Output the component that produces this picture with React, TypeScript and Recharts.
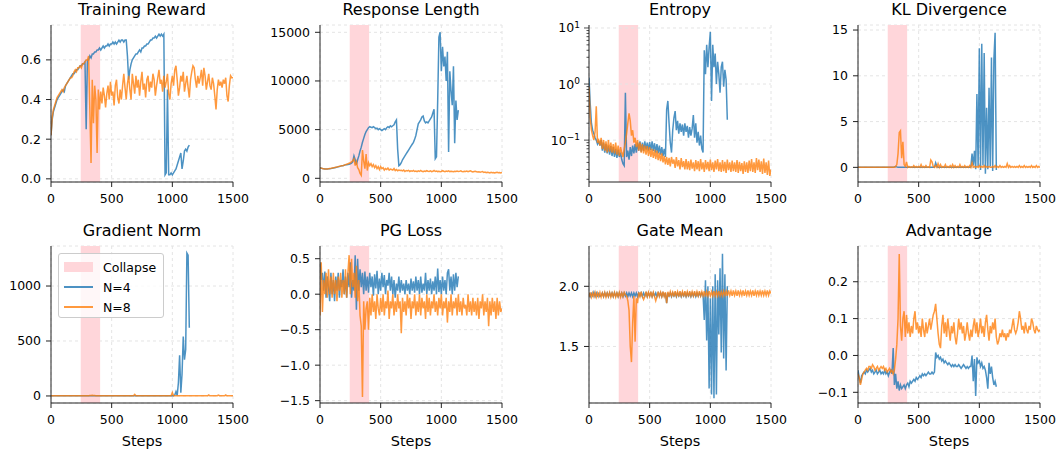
import React from "react";
import { LineChart, Line, XAxis, YAxis, CartesianGrid, ReferenceArea, ReferenceLine } from "recharts";

// training steps, one point every 10 steps (N=4 run stops at 1140)
const STEPS = Array.from({ length: 151 }, (_, i) => i * 10);
const X_TICKS = [0, 500, 1000, 1500];
const COLLAPSE = [245, 405];

const REWARD_N4 = [
  0.22, 0.30, 0.34, 0.36, 0.38, 0.40, 0.41, 0.42, 0.43, 0.44,
  0.45, 0.44, 0.47, 0.48, 0.49, 0.50, 0.51, 0.52, 0.53, 0.53,
  0.54, 0.55, 0.55, 0.56, 0.57, 0.57, 0.58, 0.58, 0.59, 0.25,
  0.60, 0.60, 0.62, 0.61, 0.63, 0.63, 0.64, 0.64, 0.65, 0.65,
  0.66, 0.65, 0.66, 0.67, 0.66, 0.67, 0.67, 0.68, 0.67, 0.68,
  0.68, 0.69, 0.68, 0.69, 0.68, 0.69, 0.70, 0.69, 0.70, 0.70,
  0.69, 0.70, 0.70, 0.62, 0.50, 0.55, 0.58, 0.60, 0.61, 0.62,
  0.63, 0.63, 0.64, 0.65, 0.64, 0.66, 0.66, 0.67, 0.67, 0.68,
  0.68, 0.69, 0.70, 0.70, 0.71, 0.71, 0.72, 0.71, 0.72, 0.73,
  0.72, 0.73, 0.72, 0.73, 0.02, 0.03, 0.45, 0.02, 0.02, 0.03,
  0.02, 0.03, 0.04, 0.05, 0.07, 0.09, 0.11, 0.13, 0.05, 0.09,
  0.14, 0.15, 0.14, 0.16, 0.17,
];
const REWARD_N8 = [
  0.22, 0.31, 0.35, 0.37, 0.39, 0.41, 0.42, 0.43, 0.44, 0.45,
  0.44, 0.46, 0.47, 0.48, 0.49, 0.50, 0.51, 0.51, 0.52, 0.54,
  0.55, 0.54, 0.56, 0.56, 0.57, 0.56, 0.58, 0.58, 0.59, 0.60,
  0.60, 0.62, 0.35, 0.08, 0.50, 0.28, 0.47, 0.40, 0.13, 0.45,
  0.35, 0.44, 0.38, 0.46, 0.42, 0.36, 0.43, 0.47, 0.40, 0.49,
  0.42, 0.44, 0.37, 0.47, 0.50, 0.41, 0.38, 0.45, 0.40, 0.47,
  0.53, 0.46, 0.40, 0.48, 0.52, 0.45, 0.40, 0.53, 0.48, 0.43,
  0.52, 0.46, 0.50, 0.42, 0.49, 0.54, 0.45, 0.48, 0.41, 0.50,
  0.52, 0.44, 0.49, 0.46, 0.53, 0.50, 0.42, 0.47, 0.51, 0.55,
  0.48, 0.50, 0.44, 0.52, 0.46, 0.49, 0.53, 0.43, 0.40, 0.48,
  0.52, 0.47, 0.55, 0.57, 0.50, 0.42, 0.46, 0.52, 0.49, 0.54,
  0.44, 0.48, 0.52, 0.46, 0.41, 0.50, 0.54, 0.57, 0.56, 0.50,
  0.46, 0.52, 0.48, 0.51, 0.55, 0.47, 0.56, 0.52, 0.45, 0.49,
  0.53, 0.47, 0.45, 0.51, 0.48, 0.42, 0.35, 0.45, 0.50, 0.47,
  0.49, 0.46, 0.50, 0.48, 0.51, 0.42, 0.39, 0.47, 0.52, 0.51,
  0.51,
];

const LENGTH_N4 = [
  1100, 1050, 1000, 980, 960, 950, 960, 970, 990, 1000,
  1020, 1050, 1080, 1100, 1150, 1180, 1200, 1250, 1280, 1300,
  1350, 1380, 1400, 1420, 1450, 1500, 1550, 1700, 2300, 1900,
  1400, 1900, 2300, 2800, 3200, 3700, 4100, 4500, 4800, 5000,
  5200, 5300, 5250, 5200, 5300, 5200, 5100, 5150, 5000, 5100,
  5000, 4900, 5000, 5100, 5000, 5200, 5300, 5200, 5400, 5300,
  5400, 5500, 5800, 6000, 3000, 1300, 1400, 1600, 1900, 2100,
  2300, 2500, 2700, 2900, 3100, 3300, 3500, 3700, 4000, 4400,
  5000, 5600, 5800, 6000, 6300, 6400, 5900, 5700, 5800, 5700,
  5900, 6100, 6300, 6700, 7100, 2000, 2200, 8000, 14500, 15000,
  11000, 13500, 11500, 12500, 10000, 13000, 2700, 11000, 9000, 7500,
  11500, 3600, 8000, 6000, 7000,
];
const LENGTH_N8 = [
  1100, 1050, 1000, 980, 960, 950, 960, 980, 1000, 1020,
  1050, 1080, 1100, 1130, 1150, 1200, 1230, 1260, 1300, 1320,
  1350, 1400, 1450, 1500, 1550, 1600, 1700, 1800, 2000, 1300,
  1700, 1100, 900, 500, 300, 2900, 1800, 1000, 2500, 800,
  1600, 1300, 1500, 1200, 1400, 1100, 1300, 1000, 1200, 900,
  1200, 1000, 1100, 850, 1000, 900, 1050, 850, 950, 900,
  850, 1000, 800, 900, 780, 850, 800, 820, 760, 850,
  700, 800, 750, 820, 700, 760, 720, 800, 700, 750,
  680, 760, 700, 800, 720, 680, 750, 700, 780, 720,
  700, 760, 680, 720, 800, 700, 750, 690, 720, 680,
  700, 780, 720, 680, 740, 700, 760, 690, 720, 700,
  680, 720, 700, 750, 690, 710, 760, 700, 680, 720,
  700, 740, 680, 720, 760, 700, 650, 690, 720, 680,
  640, 680, 620, 660, 700, 600, 650, 580, 620, 600,
  560, 620, 580, 600, 550, 600, 620, 580, 600, 560,
  600,
];

const ENTROPY_N4 = [
  1.3, 0.45, 0.2, 0.15, 0.13, 0.11, 0.1, 0.085, 0.095, 0.08,
  0.1, 0.065, 0.09, 0.06, 0.085, 0.058, 0.08, 0.055, 0.078, 0.052,
  0.075, 0.05, 0.07, 0.048, 0.068, 0.05, 0.06, 0.045, 0.038, 0.035,
  0.7, 0.05, 0.065, 0.045, 0.075, 0.052, 0.08, 0.058, 0.085, 0.06,
  0.09, 0.065, 0.095, 0.062, 0.09, 0.064, 0.095, 0.068, 0.09, 0.065,
  0.092, 0.066, 0.095, 0.064, 0.088, 0.06, 0.085, 0.058, 0.08, 0.055,
  0.075, 0.052, 0.07, 0.05, 0.35, 0.5, 0.2, 0.09, 0.06, 0.15,
  0.25, 0.33, 0.15, 0.22, 0.13, 0.2, 0.14, 0.19, 0.12, 0.2,
  0.14, 0.18, 0.11, 0.17, 0.12, 0.16, 0.28, 0.11, 0.2, 0.09,
  0.14, 0.08, 0.12, 0.07, 0.06, 4.0, 1.5, 5.0, 2.0, 4.5,
  8.5, 0.5, 5.0, 2.0, 3.5, 1.0, 2.5, 1.5, 0.7, 2.0,
  2.5, 0.9, 1.8, 1.2, 0.23,
];
const ENTROPY_N8 = [
  0.9, 0.25, 0.15, 0.12, 0.1, 0.14, 0.4, 0.09, 0.1, 0.08,
  0.11, 0.07, 0.1, 0.065, 0.095, 0.06, 0.1, 0.062, 0.09, 0.06,
  0.085, 0.058, 0.09, 0.055, 0.08, 0.052, 0.075, 0.06, 0.05, 0.07,
  0.09, 0.13, 0.2, 0.3, 0.22, 0.12, 0.15, 0.09, 0.11, 0.075,
  0.1, 0.065, 0.09, 0.06, 0.085, 0.058, 0.08, 0.055, 0.078, 0.052,
  0.075, 0.05, 0.07, 0.048, 0.068, 0.046, 0.065, 0.044, 0.06, 0.042,
  0.058, 0.04, 0.052, 0.037, 0.05, 0.036, 0.048, 0.034, 0.05, 0.038,
  0.045, 0.032, 0.05, 0.034, 0.044, 0.03, 0.048, 0.033, 0.042, 0.03,
  0.046, 0.03, 0.042, 0.029, 0.045, 0.031, 0.04, 0.028, 0.044, 0.03,
  0.042, 0.028, 0.046, 0.03, 0.04, 0.027, 0.044, 0.03, 0.041, 0.028,
  0.045, 0.029, 0.04, 0.027, 0.043, 0.03, 0.046, 0.028, 0.04, 0.027,
  0.044, 0.028, 0.041, 0.026, 0.045, 0.029, 0.04, 0.027, 0.043, 0.028,
  0.04, 0.027, 0.044, 0.026, 0.041, 0.028, 0.039, 0.025, 0.042, 0.027,
  0.04, 0.026, 0.043, 0.028, 0.046, 0.027, 0.04, 0.026, 0.048, 0.029,
  0.045, 0.027, 0.042, 0.025, 0.047, 0.026, 0.04, 0.024, 0.043, 0.023,
  0.03,
];

const KL_N4 = [
  0, 0, 0, 0, 0, 0, 0, 0, 0, 0,
  0, 0, 0, 0, 0, 0, 0, 0, 0, 0,
  0, 0, 0, 0, 0, 0, 0, 0, 0, 0,
  0.05, 0.1, 0.05, 0, 0, 0, 0, 0, 0, 0,
  0, 0, 0, 0, 0, 0, 0, 0, 0, 0,
  0, 0, 0, 0, 0, 0, 0, 0, 0, 0,
  0, 0, 0, 0, 0.5, 0.1, 0, 0, 0, 0,
  0, 0, 0, 0, 0, 0, 0, 0, 0, 0,
  0, 0, 0, 0, 0, 0, 0, 0, 0, 0,
  0, 0, 0, 0.05, 1.5, 0.2, 1.8, -0.2, 8, 0.1,
  13, -0.3, 13.5, 0.2, 12.5, -0.7, 6.5, -0.2, 8.7, 0.1,
  12, -0.4, 11.8, 14.7, -0.3,
];
const KL_N8 = [
  0, 0, 0, 0, 0, 0, 0, 0, 0, 0,
  0, 0, 0, 0, 0, 0, 0, 0, 0, 0,
  0, 0, 0, 0, 0, 0, 0, 0, 0, 0,
  0, 0.1, 0.3, 1.5, 3.8, 4.0, 1.0, 2.8, 0.3, 0.1,
  0.6, 0, 0.1, 0, 0.05, 0, 0.2, 0, 0.1, 0,
  0.1, 0, 0.3, 0, 0.1, 0, 0.2, 0, 0.05, 0,
  0.8, 0.6, 0.1, 0, 0.2, 0, 0.4, 0, 0.3, 0,
  0.1, 0, 0.3, 0, 0.1, 0, 0.2, 0, 0.3, 0,
  0.2, 0, 0.1, 0, 0.3, 0, 0.1, 0, 0.2, 0,
  0.1, 0, 0.2, 0, 0.5, 0, 0.1, 0, 0.1, 0,
  0.2, 0, 0.1, 0, 0.2, 0, 0.1, 0, 0.1, 0,
  0, 0.1, 0, 0.2, 0, 0.1, 0, 0.2, 0, 0.1,
  0, 0.1, 0, 0.4, 0, 0.2, 0, 0.1, 0, 0.1,
  0, 0.1, 0, 0.2, 0, 0.1, 0, 0.2, 0, 0.1,
  0, 0.1, 0, 0.2, 0, 0.1, 0, 0.2, 0, 0.1,
  0,
];

const GRAD_N4 = [
  2, 1, 1, 1, 1, 1, 1, 1, 1, 1,
  1, 1, 1, 1, 1, 1, 1, 1, 1, 1,
  1, 1, 1, 1, 1, 1, 1, 1, 1, 1,
  2, 1, 1, 1, 1, 1, 1, 1, 1, 1,
  1, 1, 1, 1, 1, 1, 1, 1, 1, 1,
  1, 1, 1, 1, 1, 1, 1, 1, 1, 1,
  1, 1, 1, 1, 2, 1, 1, 1, 1, 1,
  1, 1, 1, 1, 1, 1, 1, 1, 1, 1,
  1, 1, 1, 1, 1, 1, 1, 1, 1, 1,
  1, 1, 1, 1, 2, 3, 2, 3, 2, 3,
  1, 2, 8, 40, 5, 120, 370, 30, 200, 540,
  330, 420, 1300, 1280, 620,
];
const GRAD_N8 = [
  2, 2, 2, 2, 2, 2, 2, 2, 2, 2,
  2, 2, 2, 2, 2, 2, 2, 2, 2, 2,
  2, 2, 2, 2, 2, 2, 2, 2, 2, 2,
  3, 3, 4, 5, 6, 5, 4, 3, 3, 2,
  2, 2, 2, 2, 2, 2, 2, 2, 2, 2,
  2, 2, 2, 2, 2, 2, 2, 2, 2, 2,
  2, 2, 2, 2, 2, 2, 2, 2, 2, 15,
  2, 2, 2, 2, 2, 2, 2, 2, 2, 2,
  2, 2, 2, 2, 2, 2, 2, 2, 2, 2,
  2, 2, 2, 2, 2, 2, 2, 2, 2, 2,
  30, 2, 2, 2, 2, 2, 2, 2, 2, 2,
  2, 2, 2, 2, 2, 2, 2, 2, 2, 2,
  2, 2, 2, 2, 2, 2, 2, 2, 2, 2,
  10, 2, 2, 2, 2, 2, 2, 2, 8, 2,
  2, 2, 2, 2, 10, 2, 2, 2, 2, 2,
  2,
];

const PG_N4 = [
  0.45, 0.2, 0.3, 0.05, 0.32, -0.05, 0.25, 0.1, -0.1, 0.3,
  0.0, 0.2, -0.1, 0.25, 0.05, 0.3, -0.05, 0.2, 0.1, 0.35,
  0.0, 0.25, -0.05, 0.3, 0.1, 0.45, -0.05, 0.2, 0.05, 0.55,
  -0.22, 0.5, 0.05, 0.35, 0.1, 0.3, 0.0, 0.32, 0.05, 0.25,
  0.02, 0.3, 0.1, 0.25, -0.02, 0.28, 0.08, 0.33, 0.0, 0.22,
  0.05, 0.3, 0.1, 0.27, 0.0, 0.2, 0.12, 0.3, 0.05, 0.25,
  0.0, 0.2, -0.05, 0.15, 0.05, 0.25, 0.02, 0.2, 0.05, 0.15,
  0.0, 0.2, 0.05, 0.15, 0.0, 0.22, 0.05, 0.18, 0.02, 0.25,
  0.05, 0.2, 0.0, 0.25, 0.02, 0.15, 0.05, 0.3, 0.0, 0.2,
  0.05, 0.22, 0.0, 0.18, 0.05, 0.25, 0.0, 0.36, 0.03, 0.2,
  0.0, 0.25, 0.05, 0.2, 0.0, 0.3, 0.35, 0.05, 0.25, 0.0,
  0.28, 0.05, 0.3, 0.1, 0.25,
];
const PG_N8 = [
  -0.3, 0.45, -0.25, 0.2, 0.0, 0.3, -0.05, 0.35, 0.0, 0.25,
  -0.05, 0.3, 0.0, 0.2, -0.1, 0.25, 0.05, 0.3, -0.05, 0.2,
  0.0, 0.35, -0.05, 0.3, 0.55, 0.0, 0.5, 0.1, 0.3, -0.05,
  0.4, -0.1, 0.2, -0.3, -0.45, -1.45, -0.1, -0.5, -0.2, -0.1,
  -0.5, -0.05, -0.3, 0.0, -0.25, -0.1, -0.35, 0.0, -0.2, -0.3,
  -0.05, -0.25, 0.0, -0.3, -0.1, -0.2, 0.05, -0.35, -0.1, -0.2,
  0.0, -0.3, -0.1, -0.25, 0.0, -0.2, -0.1, -0.55, -0.05, -0.25,
  -0.1, -0.3, 0.0, -0.2, -0.05, -0.35, -0.1, -0.2, 0.0, -0.3,
  -0.1, -0.25, 0.0, -0.3, -0.05, -0.2, -0.1, -0.35, 0.0, -0.25,
  -0.05, -0.3, -0.1, -0.2, 0.0, -0.25, -0.1, -0.3, -0.05, -0.2,
  0.0, -0.3, -0.1, -0.2, -0.05, -0.4, -0.1, -0.25, 0.0, -0.3,
  -0.1, -0.2, -0.05, -0.3, 0.0, -0.25, -0.1, -0.3, -0.05, -0.2,
  -0.15, -0.3, 0.0, -0.25, -0.1, -0.3, -0.05, -0.25, -0.1, -0.3,
  -0.05, -0.35, -0.1, -0.2, 0.0, -0.3, -0.1, -0.25, -0.05, -0.45,
  -0.1, -0.3, -0.05, -0.25, -0.1, -0.35, -0.05, -0.3, -0.1, -0.25,
  -0.2,
];

const GATE_N4 = [
  1.945, 1.915, 1.94, 1.92, 1.95, 1.915, 1.945, 1.92, 1.94, 1.915,
  1.925, 1.945, 1.915, 1.945, 1.92, 1.945, 1.915, 1.945, 1.92, 1.945,
  1.915, 1.945, 1.92, 1.945, 1.915, 1.945, 1.92, 1.945, 1.915, 1.945,
  1.92, 1.945, 1.915, 1.945, 1.92, 1.945, 1.915, 1.945, 1.92, 1.945,
  1.915, 1.945, 1.92, 1.945, 1.915, 1.945, 1.92, 1.945, 1.915, 1.945,
  1.92, 1.945, 1.915, 1.945, 1.92, 1.945, 1.915, 1.945, 1.92, 1.945,
  1.915, 1.945, 1.92, 1.945, 1.86, 1.945, 1.92, 1.945, 1.915, 1.945,
  1.92, 1.945, 1.915, 1.945, 1.92, 1.945, 1.915, 1.945, 1.92, 1.945,
  1.915, 1.945, 1.92, 1.945, 1.915, 1.945, 1.92, 1.945, 1.915, 1.945,
  1.92, 1.945, 1.92, 1.945, 1.93, 1.72, 2.05, 1.55, 2.0, 1.15,
  1.9, 1.1, 2.0, 1.07, 2.1, 1.1, 2.05, 1.6, 2.15, 1.45,
  2.27, 1.4, 2.1, 1.3, 2.0,
];
const GATE_N8 = [
  1.91, 1.95, 1.91, 1.945, 1.915, 1.95, 1.91, 1.945, 1.915, 1.95,
  1.91, 1.945, 1.915, 1.95, 1.91, 1.945, 1.915, 1.95, 1.91, 1.945,
  1.915, 1.95, 1.91, 1.945, 1.915, 1.95, 1.91, 1.945, 1.915, 1.95,
  1.93, 1.92, 1.88, 1.8, 1.5, 1.37, 1.7, 1.92, 1.54, 1.9,
  1.86, 1.95, 1.915, 1.955, 1.915, 1.89, 1.915, 1.955, 1.915, 1.95,
  1.915, 1.955, 1.915, 1.95, 1.915, 1.88, 1.915, 1.955, 1.915, 1.95,
  1.915, 1.955, 1.915, 1.95, 1.86, 1.955, 1.915, 1.955, 1.92, 1.95,
  1.915, 1.96, 1.92, 1.955, 1.915, 1.96, 1.92, 1.955, 1.915, 1.96,
  1.92, 1.955, 1.915, 1.96, 1.92, 1.955, 1.92, 1.96, 1.915, 1.955,
  1.92, 1.96, 1.92, 1.955, 1.92, 1.96, 1.915, 1.955, 1.92, 1.96,
  1.92, 1.955, 1.92, 1.96, 1.92, 1.955, 1.92, 1.96, 1.92, 1.955,
  1.92, 1.96, 1.925, 1.96, 1.92, 1.965, 1.925, 1.96, 1.92, 1.965,
  1.925, 1.96, 1.92, 1.965, 1.925, 1.96, 1.925, 1.965, 1.92, 1.96,
  1.925, 1.965, 1.925, 1.96, 1.925, 1.965, 1.92, 1.96, 1.925, 1.965,
  1.925, 1.96, 1.925, 1.965, 1.925, 1.96, 1.925, 1.965, 1.925, 1.96,
  1.94,
];

const ADV_N4 = [
  -0.04, -0.06, -0.075, -0.055, -0.05, -0.045, -0.05, -0.04, -0.045, -0.04,
  -0.035, -0.045, -0.04, -0.05, -0.045, -0.04, -0.05, -0.045, -0.04, -0.05,
  -0.045, -0.05, -0.04, -0.05, -0.045, -0.055, -0.045, -0.04, -0.05, 0.02,
  -0.08, -0.05, -0.09, -0.07, -0.095, -0.08, -0.09, -0.085, -0.08, -0.09,
  -0.08, -0.075, -0.085, -0.07, -0.075, -0.07, -0.065, -0.07, -0.06, -0.065,
  -0.06, -0.055, -0.06, -0.05, -0.055, -0.05, -0.055, -0.05, -0.045, -0.05,
  -0.05, -0.045, -0.05, -0.045, 0.008, -0.005, 0.0, -0.01, -0.005, -0.015,
  -0.01, -0.02, -0.015, -0.02, -0.025, -0.02, -0.025, -0.03, -0.025, -0.03,
  -0.025, -0.03, -0.03, -0.025, -0.03, -0.035, -0.03, -0.025, -0.03, -0.035,
  -0.03, -0.035, -0.03, -0.03, 0.0, -0.07, -0.01, -0.11, -0.005, -0.02,
  -0.015, -0.03, -0.02, -0.035, -0.03, -0.04, -0.06, -0.09, -0.02, -0.05,
  -0.03, -0.06, -0.08, -0.07, -0.085,
];
const ADV_N8 = [
  -0.05, -0.06, -0.08, -0.065, -0.05, -0.045, -0.04, -0.035, -0.04, -0.03,
  -0.03, -0.035, -0.025, -0.03, -0.04, -0.035, -0.03, -0.04, -0.035, -0.03,
  -0.035, -0.03, -0.04, -0.035, -0.045, -0.04, -0.035, -0.045, -0.04, -0.05,
  -0.04, -0.01, 0.03, 0.1, 0.275, 0.08, 0.04, 0.1, 0.12, 0.05,
  0.11, 0.06, 0.09, 0.05, 0.08, 0.06, 0.1, 0.12, 0.07, 0.09,
  0.06, 0.08, 0.05, 0.1, 0.07, 0.05, 0.09, 0.06, 0.08, 0.1,
  0.07, 0.09, 0.11, 0.12, 0.14, 0.1, 0.06, 0.03, 0.02, 0.08,
  0.11, 0.06, 0.09, 0.05, 0.1, 0.07, 0.04, 0.08, 0.06, 0.09,
  0.05, 0.03, 0.06, 0.1, 0.07, 0.09, 0.06, 0.08, 0.04, 0.06,
  0.09, 0.06, 0.04, 0.07, 0.05, 0.08, 0.1, 0.06, 0.09, 0.05,
  0.07, 0.1, 0.06, 0.08, 0.05, 0.09, 0.11, 0.07, 0.04, 0.08,
  0.06, 0.09, 0.07, 0.1, 0.05, 0.03, 0.04, 0.06, 0.05, 0.07,
  0.05, 0.06, 0.04, 0.06, 0.05, 0.07, 0.06, 0.08, 0.1, 0.07,
  0.06, 0.07, 0.09, 0.12, 0.1, 0.07, 0.08, 0.06, 0.09, 0.07,
  0.06, 0.08, 0.07, 0.1, 0.09, 0.07, 0.06, 0.08, 0.07, 0.065,
  0.07,
];

const ENTROPY_MAJOR = [0.1, 1, 10];
const ENTROPY_TICKS = [
  0.02, 0.03, 0.04, 0.05, 0.06, 0.07, 0.08, 0.09, 0.1,
  0.2, 0.3, 0.4, 0.5, 0.6, 0.7, 0.8, 0.9, 1,
  2, 3, 4, 5, 6, 7, 8, 9, 10,
];

const BLUE = "#1f77b4";
const ORANGE = "#ff7f0e";
const PINK = "#ffd6da";
const GRID = "#e4e4e4";
const INK = "#222";
const PW = 182; // plot width
const PH = 157; // plot height
const YW = 60; // y-axis gutter
const MT = 12; // room above the plot for the top tick label
const MR = 28; // room right of the plot for the last x tick label
const LW = 1.5;

const minus = (s: string) => s.replace("-", "\u2212");
const fmt1 = (v: number) => minus(v.toFixed(1));
const fmt0 = (v: number) => String(v);

function LogTick(props: any) {
  const { y, payload } = props;
  const v = payload.value as number;
  const major = ENTROPY_MAJOR.some((m) => Math.abs(m - v) < 1e-9);
  const e = Math.round(Math.log10(v));
  return (
    <g>
      <line x1={YW - (major ? 5 : 2.5)} x2={YW} y1={y} y2={y} stroke={INK} strokeWidth={0.8} />
      {major && (
        <text x={YW - 9} y={y} dy="0.36em" textAnchor="end" fontSize={12.5} fill="#000">
          10
          <tspan dy="-0.5em" fontSize={9}>
            {e < 0 ? "\u2212" + Math.abs(e) : String(e)}
          </tspan>
        </text>
      )}
    </g>
  );
}

type PanelProps = {
  left: number;
  top: number;
  title: string;
  n4: number[];
  n8: number[];
  domain: [number, number];
  ticks: number[];
  fmt?: (v: number) => string;
  log?: boolean;
  xlabel?: boolean;
};

function Panel({ left, top, title, n4, n8, domain, ticks, fmt, log, xlabel }: PanelProps) {
  const data = STEPS.map((step, i) => ({
    step,
    n4: i < n4.length ? n4[i] : null,
    n8: i < n8.length ? n8[i] : null,
  }));
  return (
    <>
      <div
        style={{
          position: "absolute",
          left,
          top: top - 23.5,
          width: PW,
          textAlign: "center",
          fontSize: 16,
          lineHeight: 1,
          whiteSpace: "nowrap",
        }}
      >
        {title}
      </div>
      <div style={{ position: "absolute", left: left - YW, top: top - MT }}>
        <LineChart
          width={YW + PW + MR}
          height={MT + PH + 30}
          data={data}
          margin={{ top: MT, right: MR, bottom: 0, left: 0 }}
        >
          <ReferenceArea x1={COLLAPSE[0]} x2={COLLAPSE[1]} fill={PINK} fillOpacity={1} stroke="none" />
          <CartesianGrid strokeDasharray="3 3" stroke={GRID} horizontal={!log} />
          {log &&
            ENTROPY_MAJOR.map((m) => (
              <ReferenceLine key={m} y={m} stroke={GRID} strokeDasharray="3 3" />
            ))}
          <XAxis
            type="number"
            dataKey="step"
            domain={[0, 1500]}
            ticks={X_TICKS}
            allowDataOverflow
            height={30}
            tickSize={5}
            tickMargin={7}
            stroke={INK}
            tick={{ fill: "#000", fontSize: 12.5 }}
          />
          {log ? (
            <YAxis
              type="number"
              scale="log"
              domain={domain}
              ticks={ENTROPY_TICKS}
              allowDataOverflow
              width={YW}
              stroke={INK}
              tickLine={false}
              tick={<LogTick />}
              interval={0}
            />
          ) : (
            <YAxis
              type="number"
              domain={domain}
              ticks={ticks}
              allowDataOverflow
              width={YW}
              tickSize={5}
              tickMargin={5}
              stroke={INK}
              tickFormatter={fmt}
              tick={{ fill: "#000", fontSize: 12.5 }}
              interval={0}
            />
          )}
          <Line
            dataKey="n4"
            stroke={BLUE}
            strokeOpacity={0.8}
            strokeWidth={LW}
            dot={false}
            type="linear"
            isAnimationActive={false}
          />
          <Line
            dataKey="n8"
            stroke={ORANGE}
            strokeOpacity={0.8}
            strokeWidth={LW}
            dot={false}
            type="linear"
            isAnimationActive={false}
          />
        </LineChart>
      </div>
      {xlabel && (
        <div
          style={{
            position: "absolute",
            left,
            top: top + PH + 31,
            width: PW,
            textAlign: "center",
            fontSize: 14.5,
            lineHeight: 1,
          }}
        >
          Steps
        </div>
      )}
    </>
  );
}

function Legend() {
  const row = { display: "flex", alignItems: "center", height: 20 } as const;
  const key = { width: 29, marginRight: 10, display: "flex", alignItems: "center" } as const;
  return (
    <div
      style={{
        position: "absolute",
        left: 58,
        top: 253,
        width: 99,
        height: 57,
        padding: "3px 0 3px 5px",
        border: "1px solid #cccccc",
        borderRadius: 3,
        background: "rgba(255,255,255,0.8)",
        fontSize: 12.5,
      }}
    >
      <div style={row}>
        <div style={key}>
          <div style={{ width: 29, height: 10, background: PINK }} />
        </div>
        Collapse
      </div>
      <div style={row}>
        <div style={key}>
          <div style={{ width: 29, height: LW, background: BLUE, opacity: 0.8 }} />
        </div>
        N=4
      </div>
      <div style={row}>
        <div style={key}>
          <div style={{ width: 29, height: LW, background: ORANGE, opacity: 0.8 }} />
        </div>
        N=8
      </div>
    </div>
  );
}

const COLS = [51, 320, 589, 858];
const ROWS = [25, 246];

export default function App() {
  return (
    <div
      style={{
        position: "absolute",
        left: 0,
        top: 0,
        width: 1063,
        height: 454,
        background: "#fff",
        fontFamily: "'DejaVu Sans', sans-serif",
        color: "#000",
      }}
    >
      <Panel left={COLS[0]} top={ROWS[0]} title="Training Reward" n4={REWARD_N4} n8={REWARD_N8}
        domain={[-0.016, 0.776]} ticks={[0, 0.2, 0.4, 0.6]} fmt={fmt1} />
      <Panel left={COLS[1]} top={ROWS[0]} title="Response Length" n4={LENGTH_N4} n8={LENGTH_N8}
        domain={[-380, 15750]} ticks={[0, 5000, 10000, 15000]} fmt={fmt0} />
      <Panel left={COLS[2]} top={ROWS[0]} title="Entropy" n4={ENTROPY_N4} n8={ENTROPY_N8}
        domain={[0.0179, 11.3]} ticks={ENTROPY_MAJOR} log />
      <Panel left={COLS[3]} top={ROWS[0]} title="KL Divergence" n4={KL_N4} n8={KL_N8}
        domain={[-1.6, 15.55]} ticks={[0, 5, 10, 15]} fmt={fmt0} />
      <Panel left={COLS[0]} top={ROWS[1]} title="Gradient Norm" n4={GRAD_N4} n8={GRAD_N8}
        domain={[-64, 1364]} ticks={[0, 500, 1000]} fmt={fmt0} xlabel />
      <Panel left={COLS[1]} top={ROWS[1]} title="PG Loss" n4={PG_N4} n8={PG_N8}
        domain={[-1.533, 0.679]} ticks={[-1.5, -1, -0.5, 0, 0.5]} fmt={fmt1} xlabel />
      <Panel left={COLS[2]} top={ROWS[1]} title="Gate Mean" n4={GATE_N4} n8={GATE_N8}
        domain={[1.03, 2.335]} ticks={[1.5, 2.0]} fmt={fmt1} xlabel />
      <Panel left={COLS[3]} top={ROWS[1]} title="Advantage" n4={ADV_N4} n8={ADV_N8}
        domain={[-0.129, 0.297]} ticks={[-0.1, 0, 0.1, 0.2]} fmt={fmt1} xlabel />
      <Legend />
    </div>
  );
}
